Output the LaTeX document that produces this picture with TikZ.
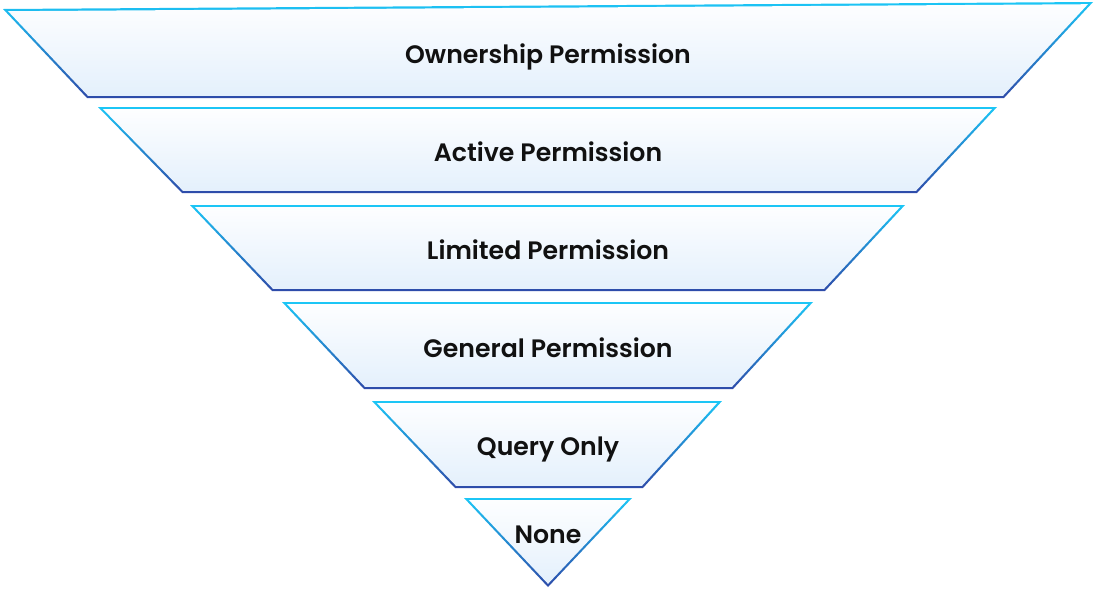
\documentclass[tikz,border=0pt]{standalone}
\usepackage{fontspec}
\setmainfont{Poppins}[UprightFont={Poppins Medium}, BoldFont={Poppins SemiBold}]
\usepackage{xcolor}
\usepackage{tikz}
\usetikzlibrary{positioning, calc}

\definecolor{rimtop}{HTML}{1CC6F6}
\definecolor{rimmid}{HTML}{2B6CD0}
\definecolor{rimbot}{HTML}{2E4BA9}
\definecolor{facetop}{HTML}{FDFEFF}
\definecolor{facebot}{HTML}{E4F0FC}
\definecolor{ink}{HTML}{111111}

\begin{document}
\begin{tikzpicture}[x=0.5pt, y=-0.5pt, font=\fontsize{13}{15}\selectfont]
\tikzstyle{rim} = [top color=rimtop, middle color=rimmid, bottom color=rimbot, draw=none]
\tikzstyle{face} = [top color=facetop, bottom color=facebot, draw=none]
\tikzstyle{tag} = [text=ink, anchor=base, inner sep=0pt, font=\fontsize{12.6}{15}\selectfont\bfseries]

\useasboundingbox (0,0) rectangle (1096,590);

% funnel layers: top left x/y, top right x/y, bottom left x, bottom right x, bottom y
\foreach \tl/\ytl/\tr/\ytr/\bl/\br/\yb in {3/9/1093/2/87/1004/98,
    98/107/997/107/182/917/193,
    190/205/905/205/272/825/291,
    282/302/813/302/364/733/389,
    372/401/722/401/455/643/488}{
  \shade[rim] (\tl,\ytl) -- (\tr,\ytr) -- (\br,\yb) -- (\bl,\yb) -- cycle;
  \shade[face] ({\tl+5.1},{\ytl+2.2}) -- ({\tr-5.1},{\ytr+2.2})
    -- ({\br-1},{\yb-2.2}) -- ({\bl+1},{\yb-2.2}) -- cycle;
}
% bottom tip
\shade[rim] (464,498) -- (632,498) -- (548,587) -- cycle;
\shade[face] (469.1,500.2) -- (626.9,500.2) -- (548,583.8) -- cycle;

\node (own) [tag] at (548,63) {Ownership Permission};
\node (act) [tag] at (548,161) {Active Permission};
\node (lim) [tag] at (548,259) {Limited Permission};
\node (gen) [tag] at (548,357) {General Permission};
\node (qry) [tag] at (548,455) {Query Only};
\node (none) [tag] at (548,543) {None};
\end{tikzpicture}
\end{document}
